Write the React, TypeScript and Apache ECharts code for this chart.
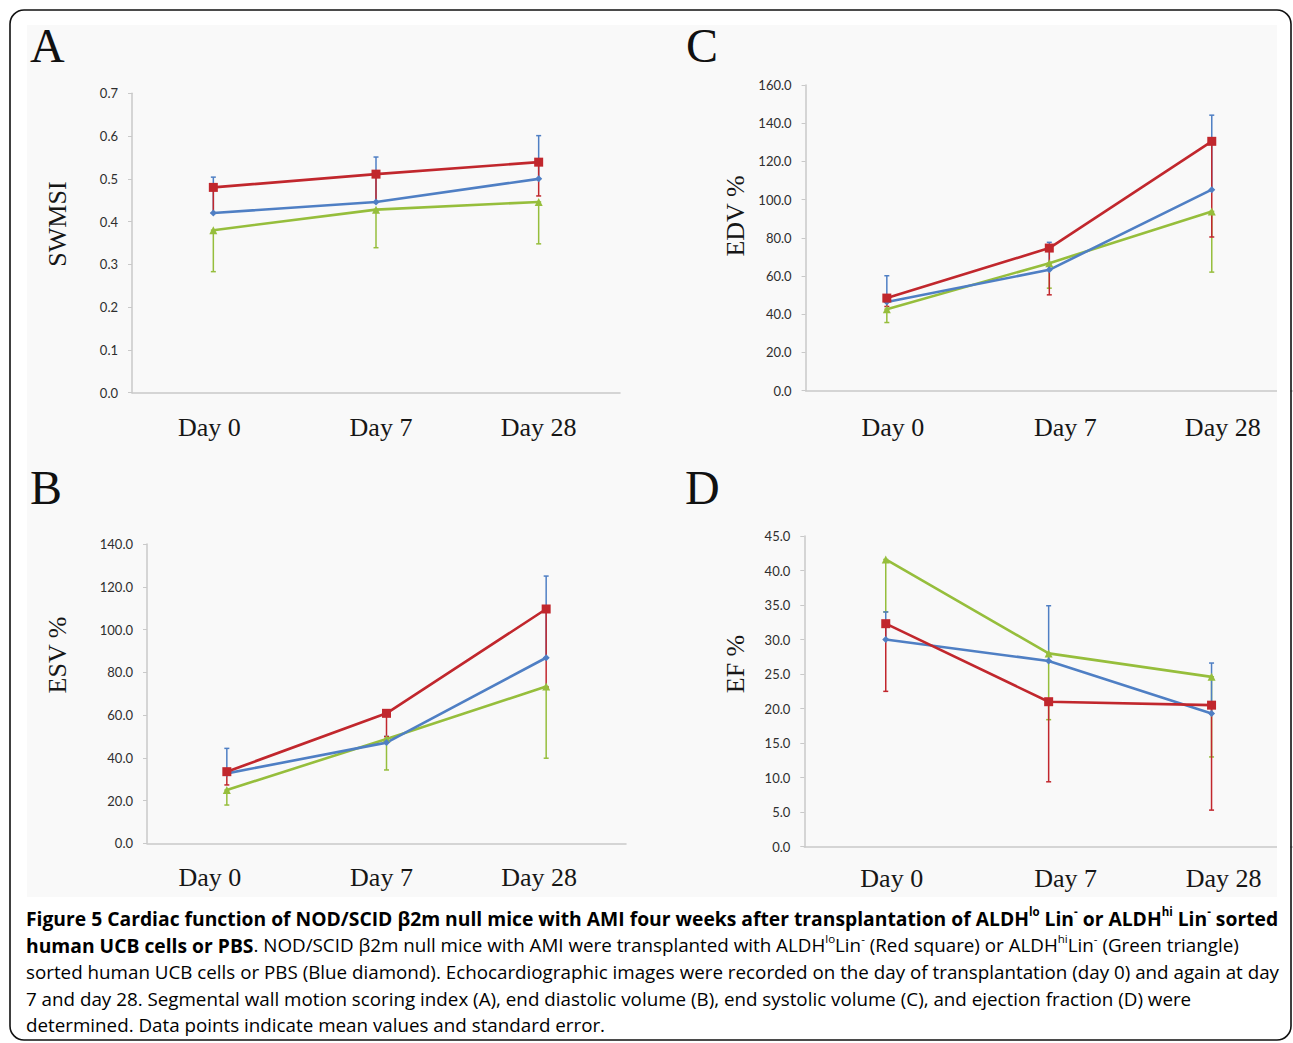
import React, { useEffect, useRef } from "react";
import * as echarts from "echarts";

// ---------- data ----------
const days = ["Day 0", "Day 7", "Day 28"];

// Panel A – SWMSI
const aRed = [0.48, 0.511, 0.539];
const aBlue = [0.42, 0.446, 0.5];
const aGreen = [0.38, 0.428, 0.446];
const aRedErr = [[0.42, 0.48], [0.445, 0.511], [0.46, 0.539]];
const aBlueErr = [[0.42, 0.504], [0.446, 0.551], [0.5, 0.601]];
const aGreenErr = [[0.283, 0.38], [0.339, 0.428], [0.348, 0.446]];

// Panel C – EDV %
const cRed = [48.4, 74.6, 130.5];
const cBlue = [46.3, 63.2, 105.2];
const cGreen = [42.6, 66.7, 93.8];
const cRedErr = [[44.0, 48.4], [50.1, 74.6], [80.4, 130.5]];
const cBlueErr = [[46.3, 60.1], [63.2, 77.6], [105.2, 144.2]];
const cGreenErr = [[35.6, 42.6], [53.6, 66.7], [62.0, 93.8]];

// Panel B – ESV %
const bRed = [33.5, 60.8, 109.6];
const bBlue = [32.7, 47.1, 86.8];
const bGreen = [24.9, 48.8, 73.3];
const bRedErr = [[27.3, 33.5], [49.9, 60.8], [73.0, 109.6]];
const bBlueErr = [[32.7, 44.4], [47.1, 50.0], [86.8, 125.0]];
const bGreenErr = [[17.9, 24.9], [34.3, 48.8], [39.8, 73.3]];

// Panel D – EF %
const dRed = [32.3, 21.0, 20.5];
const dBlue = [30.0, 26.9, 19.3];
const dGreen = [41.6, 28.0, 24.6];
const dRedErr = [[22.5, 32.3], [9.4, 21.0], [5.3, 20.5]];
const dBlueErr = [[30.0, 34.0], [26.9, 34.9], [19.3, 26.6]];
const dGreenErr = [[34.0, 41.6], [18.4, 28.0], [13.0, 24.6]];

const panelLetters = ["A", "C", "B", "D"];
const yNames = ["SWMSI", "EDV %", "ESV %", "EF %"];
const yMin = [0, 0, 0, 0];
const yMax = [0.7, 160, 140, 45];
const yStep = [0.1, 20, 20, 5];

const captionLines: [string, string][][] = [
  [
    ["b", "Figure 5 Cardiac function of NOD/SCID β2m null mice with AMI four weeks after transplantation of ALDH"],
    ["bs", "lo"],
    ["b", " Lin"],
    ["bs", "-"],
    ["b", " or ALDH"],
    ["bs", "hi"],
    ["b", " Lin"],
    ["bs", "-"],
    ["b", " sorted"],
  ],
  [
    ["b", "human UCB cells or PBS"],
    ["r", ". NOD/SCID β2m null mice with AMI were transplanted with ALDH"],
    ["rs", "lo"],
    ["r", "Lin"],
    ["rs", "-"],
    ["r", " (Red square) or ALDH"],
    ["rs", "hi"],
    ["r", "Lin"],
    ["rs", "-"],
    ["r", " (Green triangle)"],
  ],
  [["r", "sorted human UCB cells or PBS (Blue diamond). Echocardiographic images were recorded on the day of transplantation (day 0) and again at day"]],
  [["r", "7 and day 28. Segmental wall motion scoring index (A), end diastolic volume (B), end systolic volume (C), and ejection fraction (D) were"]],
  [["r", "determined. Data points indicate mean values and standard error."]],
];

// ---------- styling / layout ----------
const RED = "#C1272D";
const BLUE = "#4F7FC4";
const GREEN = "#96BE3C";
const AXIS = "#C9C9C9";

const grids = [
  { left: 132, top: 93.3, width: 488, height: 299.4 },
  { left: 805.6, top: 85, width: 490, height: 305.5 },
  { left: 147, top: 544, width: 479, height: 299.3 },
  { left: 804.3, top: 536, width: 514, height: 310.7 },
];
const letterPos = [[30, 45], [686, 45], [30, 487], [685, 487]];
const namePos = [[57, 224], [735, 216], [57, 655], [735, 664]];
const xLabelMargin = [22, 24, 21, 19];
// horizontal nudges (px) of the category labels relative to their category centre
const xLabelShift = [
  [-4, 5, 0],
  [6, 16, 11],
  [-17, -5, -7],
  [6, 17, 12],
];

function errRender(color: string) {
  return (params: any, api: any) => {
    const x = api.value(0);
    const lo = api.value(1);
    const hi = api.value(2);
    const pLo = api.coord([x, lo]);
    const pHi = api.coord([x, hi]);
    const cap = 2.5;
    const st = { stroke: color, lineWidth: 1.5 };
    return {
      type: "group",
      children: [
        { type: "line", shape: { x1: pLo[0], y1: pLo[1], x2: pHi[0], y2: pHi[1] }, style: st },
        { type: "line", shape: { x1: pLo[0] - cap, y1: pLo[1], x2: pLo[0] + cap, y2: pLo[1] }, style: st },
        { type: "line", shape: { x1: pHi[0] - cap, y1: pHi[1], x2: pHi[0] + cap, y2: pHi[1] }, style: st },
      ],
    };
  };
}

export default function App() {
  const ref = useRef<HTMLDivElement>(null);
  useEffect(() => {
    document.body.style.margin = "0";
    const chart = echarts.init(ref.current!, null, { renderer: "svg" });

    const panels = [
      { means: [aRed, aBlue, aGreen], errs: [aRedErr, aBlueErr, aGreenErr] },
      { means: [cRed, cBlue, cGreen], errs: [cRedErr, cBlueErr, cGreenErr] },
      { means: [bRed, bBlue, bGreen], errs: [bRedErr, bBlueErr, bGreenErr] },
      { means: [dRed, dBlue, dGreen], errs: [dRedErr, dBlueErr, dGreenErr] },
    ];
    const colors = [RED, BLUE, GREEN];
    const symbols = ["rect", "diamond", "triangle"];
    const symbolSizes = [9, 7, 8];
    const names = ["ALDHlo Lin-", "PBS", "ALDHhi Lin-"];

    const series: any[] = [];
    panels.forEach((p, gi) => {
      [2, 1, 0].forEach((si) => {
        series.push({
          type: "custom",
          name: names[si] + " SE",
          xAxisIndex: gi,
          yAxisIndex: gi,
          renderItem: errRender(colors[si]),
          encode: { x: 0, y: [1, 2] },
          data: p.errs[si].map((e, i) => [i, e[0], e[1]]),
          z: 2,
          silent: true,
        });
      });
      [2, 1, 0].forEach((si) => {
        series.push({
          type: "line",
          name: names[si],
          xAxisIndex: gi,
          yAxisIndex: gi,
          data: p.means[si],
          symbol: symbols[si],
          symbolSize: symbolSizes[si],
          showAllSymbol: true,
          lineStyle: { color: colors[si], width: 2.6 },
          itemStyle: { color: colors[si] },
          z: 3,
        });
      });
    });

    const xAxes = grids.map((_, gi) => {
      const labelRich: any = {};
      xLabelShift[gi].forEach((s, i) => {
        labelRich["d" + i] = {
          fontFamily: "Liberation Serif",
          fontSize: 26,
          color: "#161616",
          padding: s < 0 ? [0, -2 * s, 0, 0] : [0, 0, 0, 2 * s],
        };
      });
      return {
        type: "category",
        gridIndex: gi,
        data: days,
        boundaryGap: true,
        axisLine: { show: true, lineStyle: { color: AXIS, width: 1.5 } },
        axisTick: { show: false },
        axisLabel: {
          fontFamily: "Liberation Serif",
          fontSize: 26,
          color: "#161616",
          margin: xLabelMargin[gi],
          interval: 0,
          formatter: (v: string, i: number) => `{d${i}|${v}}`,
          rich: labelRich,
        },
        splitLine: { show: false },
      };
    });
    const yAxes = grids.map((_, gi) => ({
      type: "value",
      gridIndex: gi,
      min: yMin[gi],
      max: yMax[gi],
      interval: yStep[gi],
      axisLine: { show: true, lineStyle: { color: AXIS, width: 1.5 } },
      axisTick: { show: true, length: 4, lineStyle: { color: AXIS } },
      splitLine: { show: false },
      axisLabel: {
        fontFamily: "Lato",
        fontSize: 13,
        color: "#2e2e2e",
        margin: 14,
        formatter: (v: number) => v.toFixed(1),
      },
    }));

    const rich: any = {
      b: { fontFamily: "Open Sans", fontWeight: "bold", fontSize: 19.3, color: "#111111", lineHeight: 25 },
      bs: { fontFamily: "Open Sans", fontWeight: "bold", fontSize: 11.5, color: "#111111", lineHeight: 25, verticalAlign: "top" },
      r: { fontFamily: "Open Sans", fontSize: 18.8, color: "#3c3c3c", lineHeight: 25 },
      rs: { fontFamily: "Open Sans", fontSize: 11.5, color: "#3c3c3c", lineHeight: 25, verticalAlign: "top" },
    };
    const captionY = [918, 945, 972, 999, 1025];

    const graphics: any[] = [
      { type: "rect", z: -10, silent: true, shape: { x: 27, y: 25, width: 1250, height: 872 }, style: { fill: "#F9F9F9" } },
      { type: "rect", z: 100, silent: true, shape: { x: 1277, y: 20, width: 13, height: 880 }, style: { fill: "#FFFFFF" } },
      {
        type: "rect",
        z: 101,
        silent: true,
        shape: { x: 10, y: 10, width: 1281, height: 1030, r: 14 },
        style: { fill: "none", stroke: "#111111", lineWidth: 1.6 },
      },
    ];
    panelLetters.forEach((l, i) => {
      graphics.push({
        type: "text",
        z: 50,
        x: letterPos[i][0],
        y: letterPos[i][1],
        style: { text: l, fontFamily: "Liberation Serif", fontSize: 48, fill: "#111111", verticalAlign: "middle", align: "left" },
      });
    });
    yNames.forEach((n, i) => {
      graphics.push({
        type: "text",
        z: 50,
        x: namePos[i][0],
        y: namePos[i][1],
        rotation: Math.PI / 2,
        style: { text: n, fontFamily: "Liberation Serif", fontSize: 26, fill: "#161616", verticalAlign: "middle", align: "center" },
      });
    });
    captionLines.forEach((line, i) => {
      graphics.push({
        type: "text",
        z: 50,
        x: 26,
        y: captionY[i],
        style: {
          text: line.map(([s, t]) => `{${s}|${t}}`).join(""),
          rich,
          verticalAlign: "middle",
          align: "left",
        },
      });
    });

    chart.setOption({
      animation: false,
      backgroundColor: "#FFFFFF",
      grid: grids.map((g) => ({ ...g, containLabel: false })),
      xAxis: xAxes,
      yAxis: yAxes,
      series,
      graphic: { elements: graphics },
    });
    return () => chart.dispose();
  }, []);
  return <div ref={ref} style={{ width: 1293, height: 1043 }} />;
}
